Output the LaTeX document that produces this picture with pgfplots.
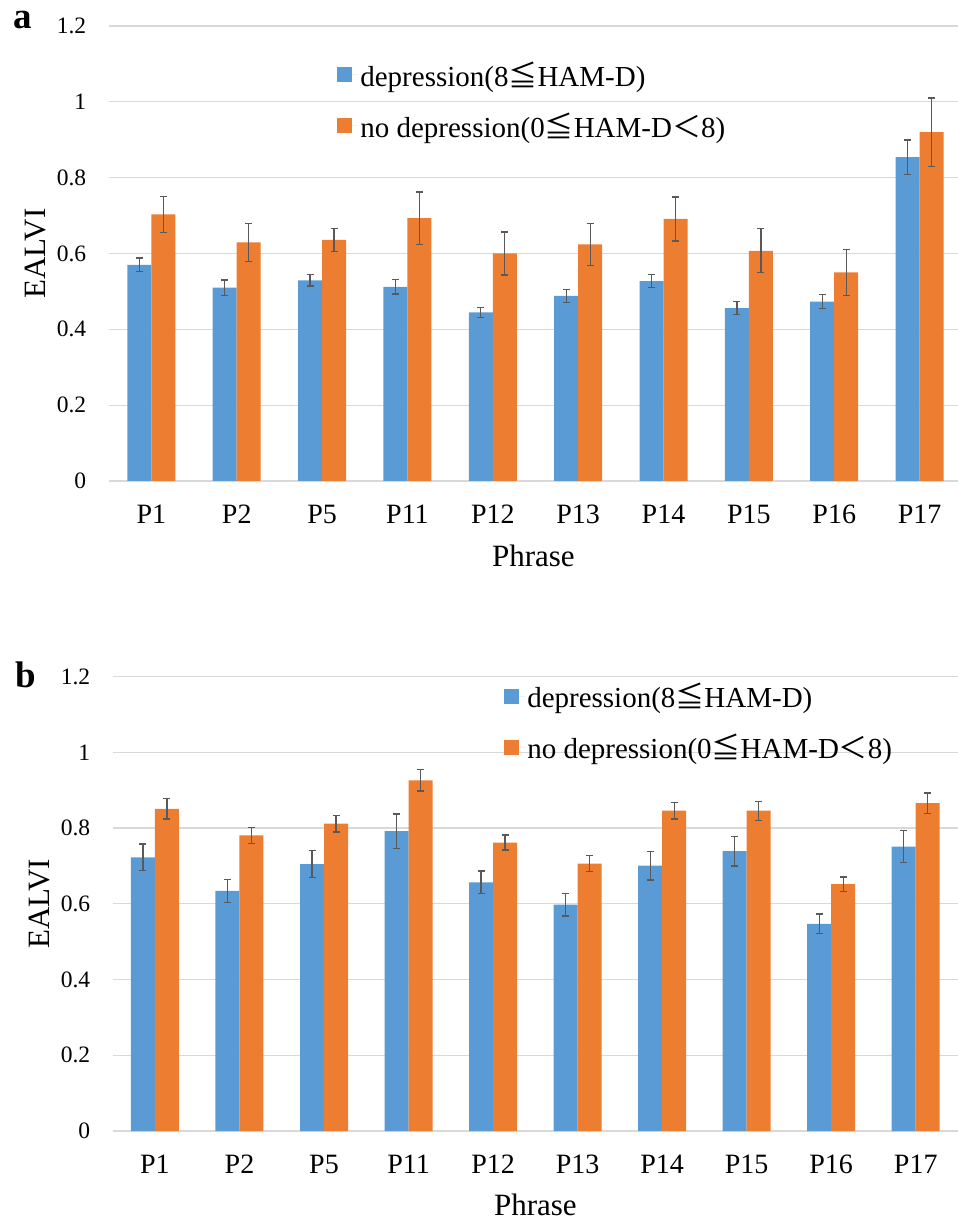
\documentclass[border=0pt]{standalone}
\usepackage{pgfplots}
\pgfplotsset{compat=1.18}
\usepackage{pgfplotstable}
\usepackage{fontspec}
\setmainfont{Liberation Serif}
\newfontfamily\cjk{Noto Sans CJK JP}
\newfontfamily\tnr{Liberation Serif}
\definecolor{xblue}{HTML}{5B9BD5}
\definecolor{xorange}{HTML}{ED7D31}
\definecolor{errgray}{HTML}{595959}
\definecolor{gridgray}{HTML}{D9D9D9}

\pgfplotstableread{
x y e
0 0.570 0.018
1 0.510 0.020
2 0.529 0.015
3 0.512 0.019
4 0.445 0.013
5 0.488 0.017
6 0.527 0.017
7 0.456 0.017
8 0.473 0.018
9 0.854 0.045
}\aBlue
\pgfplotstableread{
x y e
0 0.703 0.047
1 0.629 0.051
2 0.636 0.030
3 0.693 0.069
4 0.600 0.057
5 0.624 0.055
6 0.691 0.058
7 0.607 0.058
8 0.550 0.060
9 0.920 0.090
}\aOrange
\pgfplotstableread{
x y e
0 0.723 0.035
1 0.634 0.030
2 0.705 0.035
3 0.792 0.045
4 0.657 0.030
5 0.598 0.030
6 0.701 0.038
7 0.739 0.039
8 0.547 0.026
9 0.751 0.042
}\bBlue
\pgfplotstableread{
x y e
0 0.851 0.027
1 0.781 0.021
2 0.812 0.022
3 0.926 0.028
4 0.762 0.020
5 0.706 0.021
6 0.846 0.022
7 0.846 0.025
8 0.652 0.019
9 0.866 0.027
}\bOrange

\pgfplotsset{
  panel/.style={
    scale only axis,
    ybar=0pt,
    bar width=24pt,
    ymin=0, ymax=1.2,
    xmin=-0.5,
    ytick={0,0.2,0.4,0.6,0.8,1,1.2},
    yticklabels={\textrm{0},\textrm{0.2},\textrm{0.4},\textrm{0.6},\textrm{0.8},\textrm{1},\textrm{1.2}},
    xtick={0,...,9},
    xticklabels={P1,P2,P5,P11,P12,P13,P14,P15,P16,P17},
    /pgf/number format/assume math mode=true,
    axis line style={draw=none},
    tick style={draw=none},
    ymajorgrids,
    major grid style={draw=gridgray, line width=1.3pt},
    yticklabel style={font=\tnr\fontsize{23.5}{26}\selectfont, anchor=east, xshift=-19pt},
    xticklabel style={font=\tnr\fontsize{28}{32}\selectfont, anchor=base, yshift=-38pt},
    xlabel={Phrase},
    ylabel={EALVI},
    xlabel style={font=\fontsize{31}{36}\selectfont, anchor=base},
    ylabel style={font=\fontsize{31}{36}\selectfont, anchor=base},
    legend image code/.code={\fill[##1, draw=none] (0pt,-7.5pt) rectangle (15pt,7.5pt); \path (0pt,0pt) -- (21pt,0pt);},
    legend cell align=left,
    legend style={draw=none, fill=none, inner sep=0pt,
      font=\fontsize{29}{34}\selectfont, row sep=21pt,
      /tikz/every even column/.append style={column sep=0pt}},
    clip=false,
  },
  barerr/.style={
    error bars/.cd, y dir=both, y explicit,
    error bar style={line width=1.3pt, draw=errgray},
    error mark options={rotate=90, mark size=3.5pt, line width=1.3pt, draw=errgray},
  },
}

\begin{document}
\begin{tikzpicture}[x=1pt,y=1pt]
\useasboundingbox (0,0) rectangle (958,1219);

% panel a
\begin{axis}[panel,
  at={(108.7pt,738pt)}, anchor=south west,
  width=849.3pt, height=455pt, xmax=9.45,
  xlabel style={at={(axis description cs:0.5,-0.187)}},
  ylabel style={at={(axis description cs:-0.075,0.5)}},
  legend style={at={(axis description cs:0.269,0.837)}, anchor=west},
]
\addplot[fill=xblue, draw=none, barerr] table[x=x, y=y, y error=e] {\aBlue};
\addplot[fill=xorange, draw=none, barerr] table[x=x, y=y, y error=e] {\aOrange};
\legend{depression(8{\cjk ≦}HAM-D), no depression(0{\cjk ≦}HAM-D{\cjk ＜}8)}
\end{axis}

% panel b
\begin{axis}[panel,
  at={(112.7pt,88pt)}, anchor=south west,
  width=845.3pt, height=454.3pt, xmax=9.5,
  xlabel style={at={(axis description cs:0.5,-0.187)}},
  ylabel style={at={(axis description cs:-0.075,0.5)}},
  legend style={at={(axis description cs:0.463,0.901)}, anchor=west},
]
\addplot[fill=xblue, draw=none, barerr] table[x=x, y=y, y error=e] {\bBlue};
\addplot[fill=xorange, draw=none, barerr] table[x=x, y=y, y error=e] {\bOrange};
\legend{depression(8{\cjk ≦}HAM-D), no depression(0{\cjk ≦}HAM-D{\cjk ＜}8)}
\end{axis}

\node[anchor=base west, font=\fontsize{37}{40}\selectfont\bfseries, inner sep=0pt] at (13,1190) {a};
\node[anchor=base west, font=\fontsize{37}{40}\selectfont\bfseries, inner sep=0pt] at (15,531) {b};
\end{tikzpicture}
\end{document}
